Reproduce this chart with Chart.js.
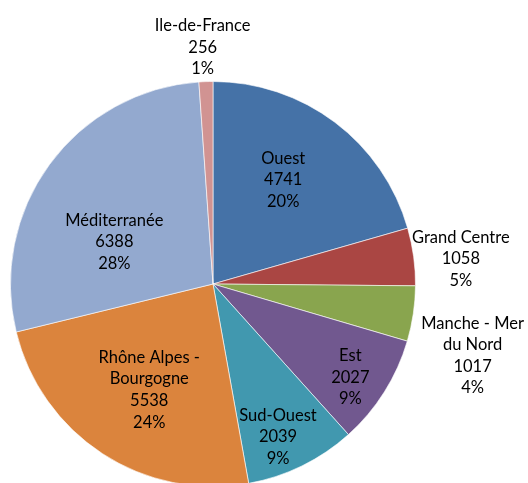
<!DOCTYPE html>
<html>
<head>
<meta charset="utf-8">
<script src="https://cdn.jsdelivr.net/npm/chart.js@4"></script>
<style>
    html, body { margin: 0; padding: 0; background: #fff; overflow: hidden; }
    #wrap { width: 528px; height: 490px; }
</style>
</head>
<body>
<div id="wrap"><canvas id="pieChart" width="528" height="490"></canvas></div>
<script>
// Regions, clockwise from 12 o'clock
const regions = ['Ouest', 'Grand Centre', 'Manche - Mer du Nord', 'Est', 'Sud-Ouest', 'Rhône Alpes - Bourgogne', 'Méditerranée', 'Ile-de-France'];
const counts = [4741, 1058, 1017, 2027, 2039, 5538, 6388, 256];
const percents = ['20%', '5%', '4%', '9%', '9%', '24%', '28%', '1%'];

// label lines as shown on the chart (wrapped names)
const labelNames = [['Ouest'], ['Grand Centre'], ['Manche - Mer', 'du Nord'], ['Est'], ['Sud-Ouest'], ['Rhône Alpes -', 'Bourgogne'], ['Méditerranée'], ['Ile-de-France']];

const colors = ['#4572A7', '#AA4643', '#89A54E', '#71588F', '#4198AF', '#DB843D', '#93A9CF', '#D19392'];

// label placement: distance as a fraction of the radius, angle shift in degrees
const labelPlace = [
    [0.62, -3], [1.23, 2], [1.33, 7], [0.82, 2],
    [0.82, 3], [0.61, -2], [0.53, -13], [1.17, -0.5]
];

// draws the Excel-style data labels (name, value, percent)
const pieLabels = {
    id: 'pieLabels',
    afterDatasetsDraw(chart) {
        const ctx = chart.ctx;
        const arcs = chart.getDatasetMeta(0).data;
        ctx.save();
        ctx.font = '16.5px Lato, "Open Sans", sans-serif';
        ctx.fillStyle = '#000';
        ctx.textAlign = 'center';
        ctx.textBaseline = 'middle';
        const lineH = 21.6;
        arcs.forEach((arc, i) => {
            const p = arc.getProps(['x', 'y', 'startAngle', 'endAngle', 'outerRadius']);
            const mid = (p.startAngle + p.endAngle) / 2 + labelPlace[i][1] * Math.PI / 180;
            const r = p.outerRadius * labelPlace[i][0];
            const cx = p.x + Math.cos(mid) * r;
            const cy = p.y + Math.sin(mid) * r;
            const lines = labelNames[i].concat([String(counts[i]), percents[i]]);
            const top = cy - (lines.length - 1) * lineH / 2;
            lines.forEach((t, j) => ctx.fillText(t, cx, top + j * lineH));
        });
        ctx.restore();
    }
};

const ctxPie = document.getElementById('pieChart').getContext('2d');
new Chart(ctxPie, {
    type: 'pie',
    data: {
        labels: regions,
        datasets: [{
            data: counts,
            backgroundColor: colors,
            borderColor: 'rgba(255,255,255,0.6)',
            borderWidth: 1
        }]
    },
    options: {
        responsive: false,
        animation: false,
        layout: { padding: { left: 10, top: 81, right: 112, bottom: 3 } },
        plugins: {
            legend: { display: false },
            tooltip: { enabled: false }
        }
    },
    plugins: [pieLabels]
});
</script>
</body>
</html>
